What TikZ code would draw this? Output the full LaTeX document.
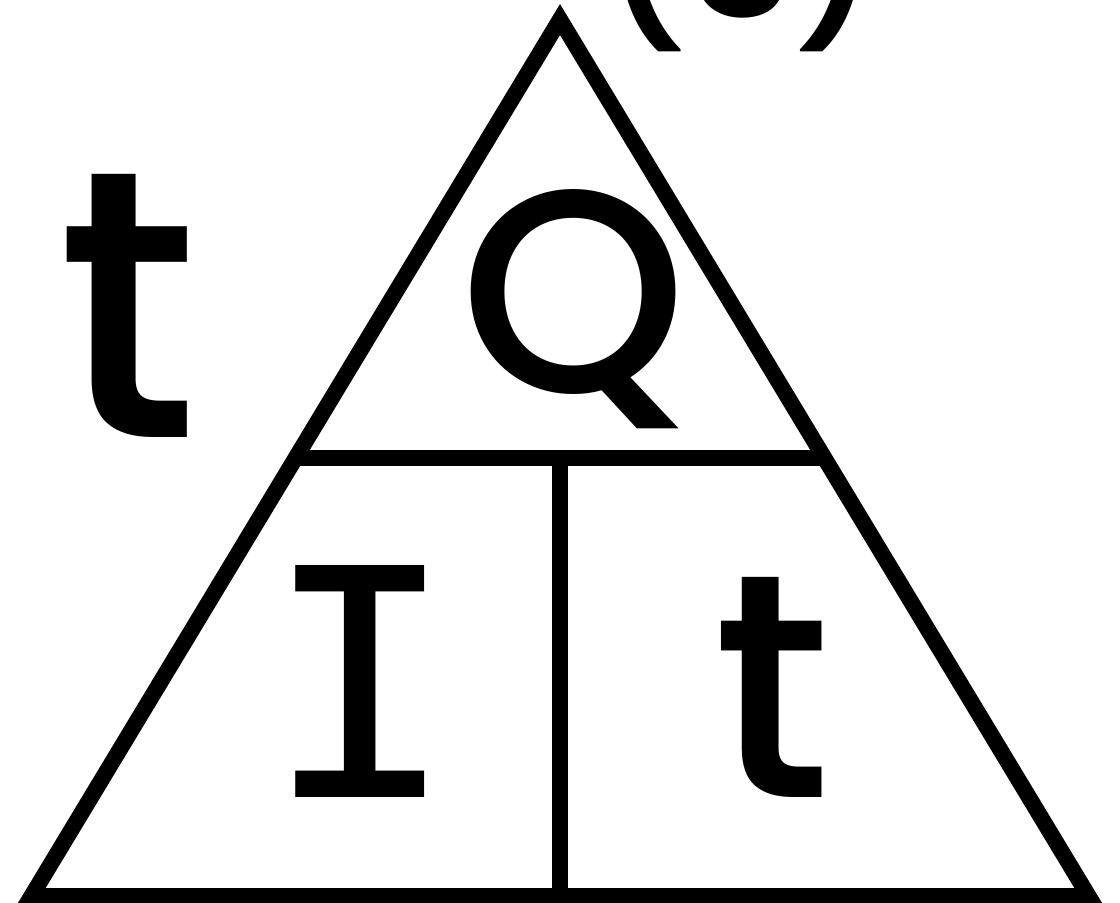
\documentclass[tikz,border=0pt]{standalone}
\usepackage{fontspec}
\usepackage{graphicx}
\usetikzlibrary{calc}
\newfontfamily\popfont{Poppins Medium}
\newfontfamily\monofont{DejaVu Sans Mono}
\tikzset{
  edge/.style={line width=8pt, line join=miter, draw=black},
  letter/.style={anchor=base, inner sep=0pt, outer sep=0pt, text=black}
}
\begin{document}
\begin{tikzpicture}[x=0.5pt,y=-0.5pt]
  \useasboundingbox (0,0) rectangle (1120,903);
  \coordinate (A) at (560,19.5);
  \coordinate (L) at (31.5,896);
  \coordinate (R) at (1088.5,896);
  \coordinate (ML) at ($(A)!0.5!(L)$);
  \coordinate (MR) at ($(A)!0.5!(R)$);
  \coordinate (MT) at ($(ML)!0.5!(MR)$);
  \coordinate (MB) at ($(L)!0.5!(R)$);
  \draw[edge] (A) -- (L) -- (R) -- cycle;
  \draw[edge] (ML) -- (MR);
  \draw[edge] (MT) -- (MB);
  \node[letter] (tout) at (128,438) {\resizebox{!}{131.5pt}{\popfont t}};
  \node[letter] (Q) at (574,393) {\resizebox{!}{101.5pt}{\popfont Q}};
  \node[letter] (I) at (360,797) {\resizebox{!}{116pt}{\monofont I}};
  \node[letter] (tin) at (772,797) {\resizebox{!}{110pt}{\popfont t}};
  \node[letter] (s) at (741,17) {\fontsize{95pt}{95pt}\popfont (s)};
\end{tikzpicture}
\end{document}
